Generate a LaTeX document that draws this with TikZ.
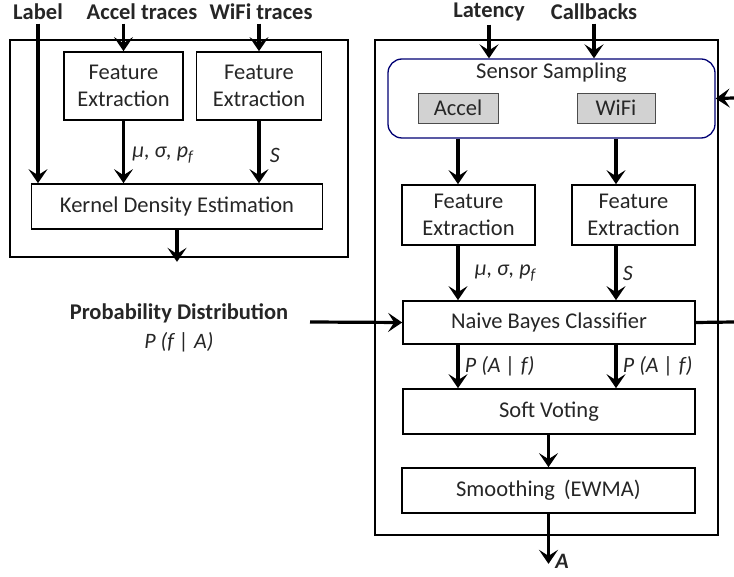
\documentclass[tikz,border=0pt]{standalone}
\usepackage{fontspec}
\setmainfont{Carlito}
\usepackage{xcolor}
\usetikzlibrary{arrows.meta, positioning}

\begin{document}
\begin{tikzpicture}[
    x=1pt, y=-1pt,
    block/.style={rectangle, draw, line width=1.7pt, inner sep=2pt, align=center, font=\fontsize{22.5}{27}\selectfont, text=black!85},
    sensorblock/.style={rectangle, draw=blue!45!black, line width=1.3pt, rounded corners=14pt},
    grayblock/.style={rectangle, draw=gray!60!black, fill=gray!35, line width=0.8pt, minimum width=80pt, minimum height=30pt, font=\fontsize{22.5}{24}\selectfont, text=black!85},
    frame/.style={draw, line width=1.7pt},
    intext/.style={font=\bfseries\fontsize{22.5}{25}\selectfont, text=black!85},
    lbl/.style={font=\itshape\fontsize{22}{24}\selectfont, text=black!85},
    arrow/.style={line width=3.2pt, -{Stealth[length=14pt, width=19pt, inset=6pt]}}
]
    \useasboundingbox (0,0) rectangle (734,577);

    % Frames
    \draw [frame] (10,40) rectangle (348,257);
    \draw [frame] (375,40) rectangle (718,535);

    % Inputs
    \node (label) [intext] at (38,12) {Label};
    \node (acctr) [intext] at (142,12) {Accel traces};
    \node (wifitr) [intext] at (261,12) {WiFi traces};
    \node (lat) [intext] at (489,12) {Latency};
    \node (cb) [intext] at (594,12) {Callbacks};

    % Training side
    \node (fe1) [block, minimum width=119pt, minimum height=68pt] at (123.5,86) {Feature\\Extraction};
    \node (fe2) [block, minimum width=125pt, minimum height=68pt] at (259,86) {Feature\\Extraction};
    \node (kde) [block, minimum width=291pt, minimum height=45pt] at (177,206.5) {Kernel Density Estimation};
    \node (prob) [intext] at (179,313) {Probability Distribution};
    \node (pfa) [lbl] at (179,342) {P (f | A)};

    % Classification side
    \node (sense) [sensorblock, minimum width=327pt, minimum height=79pt] at (551.5,98.5) {};
    \node [font=\fontsize{22.5}{24}\selectfont, text=black!85] at (551.5,73) {Sensor Sampling};
    \node (accel) [grayblock] at (458,108) {Accel};
    \node (wifi) [grayblock, minimum width=78pt] at (616,108) {WiFi};
    \node (fe3) [block, minimum width=133pt, minimum height=60pt] at (468.5,215) {Feature\\Extraction};
    \node (fe4) [block, minimum width=123pt, minimum height=60pt] at (633.5,215) {Feature\\Extraction};
    \node (nb) [block, minimum width=292pt, minimum height=43pt] at (549,322.5) {Naive Bayes Classifier};
    \node (sv) [block, minimum width=292pt, minimum height=45pt] at (549,411.5) {Soft Voting};
    \node (sm) [block, minimum width=293pt, minimum height=45pt] at (548.5,490.5) {Smoothing\, (EWMA)};
    \node (act) [font=\bfseries\itshape\fontsize{22}{24}\selectfont, text=black!85] at (562,561) {A};

    \coordinate (probin) at (310,322);
    \coordinate (nbout) at (734,322);
    \coordinate (fbin) at (734,98);

    % Arrows
    \draw [arrow] (label.south) -- (label.south |- kde.north);
    \draw [arrow] (fe1.north |- acctr.south) -- (fe1.north);
    \draw [arrow] (fe2.north |- wifitr.south) -- (fe2.north);
    \draw [arrow] (fe1.south) -- (fe1.south |- kde.north) node[lbl, pos=0.55, right=4pt] {μ, σ, p\textsubscript{f}};
    \draw [arrow] (fe2.south) -- (fe2.south |- kde.north) node[lbl, pos=0.55, right=6pt] {S};
    \draw [arrow] (kde.south) -- ++(0,32);

    \draw [arrow] (lat.south) -- (lat.south |- sense.north);
    \draw [arrow] (cb.south) -- (cb.south |- sense.north);
    \draw [arrow] (fbin) -- (sense.east);
    \draw [arrow] (accel |- sense.south) -- (accel |- fe3.north);
    \draw [arrow] (wifi |- sense.south) -- (wifi |- fe4.north);
    \draw [arrow] (accel |- fe3.south) -- (accel |- nb.north) node[lbl, midway, right=12pt] {μ, σ, p\textsubscript{f}};
    \draw [arrow] (wifi |- fe4.south) -- (wifi |- nb.north) node[lbl, midway, right=2pt] {S};
    \draw [arrow] (probin) -- (nb.west);
    \draw [line width=3.2pt] (nb.east) -- (nbout);
    \draw [arrow] (accel |- nb.south) -- (accel |- sv.north) node[lbl, midway, right=2pt] {P (A | f)};
    \draw [arrow] (wifi |- nb.south) -- (wifi |- sv.north) node[lbl, midway, right=2pt] {P (A | f)};
    \draw [arrow] (sv.south -| sm) -- (sm.north);
    \draw [arrow] (sm.south) -- ++(0,50);

\end{tikzpicture}
\end{document}
